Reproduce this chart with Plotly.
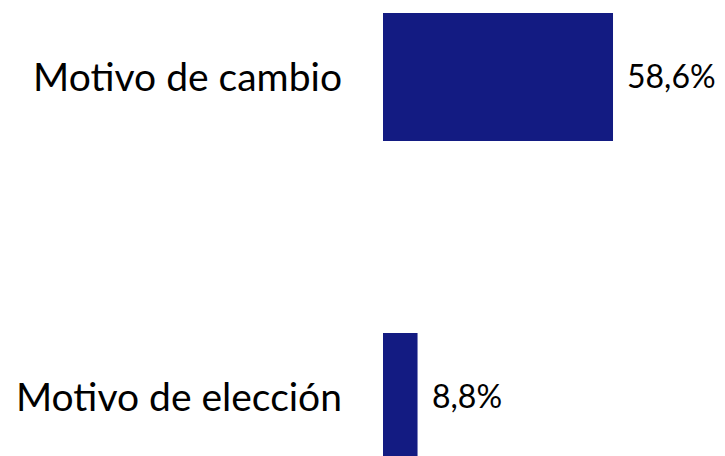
import plotly.graph_objects as go

categories = ["Motivo de elección", "Motivo de cambio"]
values = [8.8, 58.6]
value_labels = ["8,8%", "58,6%"]

BAR_COLOR = "#131B82"
FONT = "Lato, 'Open Sans', sans-serif"

fig = go.Figure()
fig.add_trace(go.Bar(
    x=values,
    y=categories,
    orientation="h",
    marker=dict(color=BAR_COLOR, line=dict(width=0)),
    hoverinfo="skip",
))

for c, v, lab in zip(categories, values, value_labels):
    fig.add_annotation(
        x=v, y=c, text=lab, showarrow=False,
        xanchor="left", xshift=12, yshift=1,
        font=dict(family=FONT, size=32, color="#000000"),
    )

fig.update_layout(
    width=725, height=456,
    margin=dict(l=375, r=0, t=0, b=0),
    paper_bgcolor="white", plot_bgcolor="white",
    bargap=0.6,
    showlegend=False,
    font=dict(family=FONT, color="#000000"),
    xaxis=dict(range=[0, 350 / 3.925], visible=False, fixedrange=True),
    yaxis=dict(
        range=[-0.2094, 1.2156],
        showgrid=False, zeroline=False, showline=False,
        ticks="", ticklabelstandoff=40,
        tickfont=dict(family=FONT, size=39, color="#000000"),
        categoryorder="array", categoryarray=categories,
    ),
)

fig.write_html("out.html")
